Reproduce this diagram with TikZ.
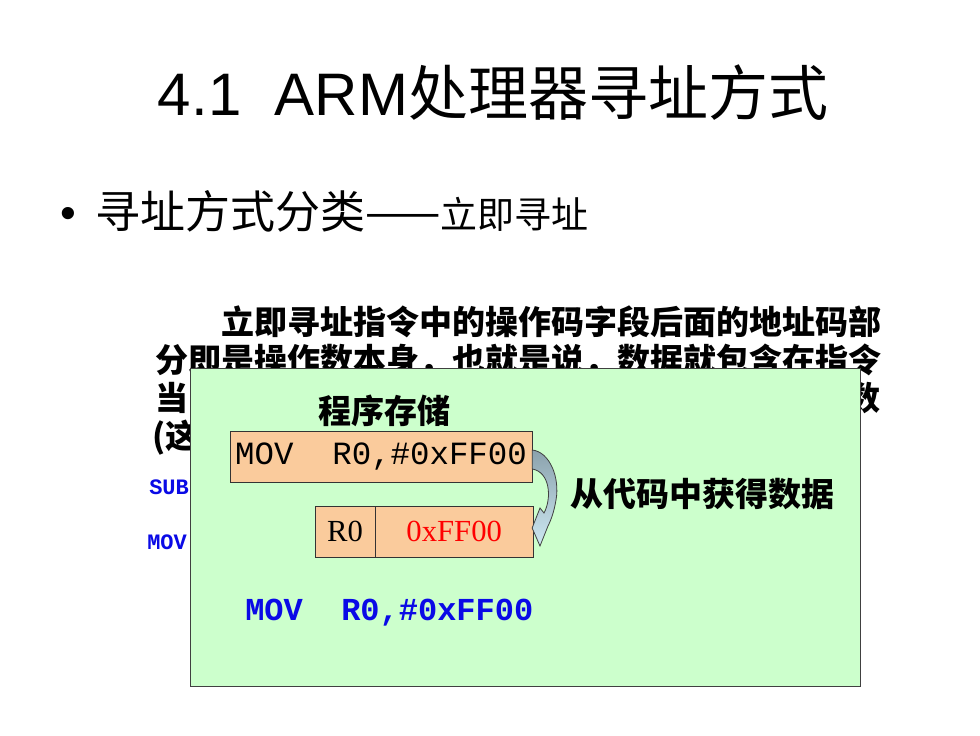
\documentclass[tikz,border=0pt]{standalone}
\usepackage{fontspec}
\setmainfont{Liberation Sans}
\newfontfamily\cjk{Noto Sans CJK SC}
\newfontfamily\courier{Liberation Mono}
\newfontfamily\timesf{Liberation Serif}
\usepackage{tikz}
\usetikzlibrary{positioning, calc}
\definecolor{panelgreen}{HTML}{CCFFCC}
\definecolor{cellorange}{HTML}{FACB9C}
\definecolor{codeblue}{HTML}{0A0AE6}
\definecolor{arrowtop}{HTML}{8BA2AD}
\definecolor{arrowbot}{HTML}{CDE8F2}
\tikzset{kai/.style={font=\cjk\bfseries\fontsize{24.75}{30}\selectfont, inner sep=0pt},
    smallcode/.style={font=\courier\bfseries\fontsize{16.5}{20}\selectfont, text=codeblue, inner sep=0pt},
    cell/.style={draw=black!80, fill=cellorange, minimum height=38pt, inner sep=0pt},}

\begin{document}
\begin{tikzpicture}[x=0.75pt, y=-0.75pt]
                    \useasboundingbox[fill=white] (0,0) rectangle (980,735);
                    %Title and bullet line:
                    \node[anchor=base, inner sep=0pt, font=\fontsize{45}{54}\selectfont] (title) at (493,115)
                        {4.1\ \ ARM{\cjk 处理器寻址方式}};
                    \node[anchor=base west, inner sep=0pt, font=\fontsize{33.75}{40}\selectfont] (bullet) at (60,228) {•};
                    \node[anchor=base west, inner sep=0pt, font=\cjk\fontsize{33.75}{40}\selectfont] (topic) at (95,228)
                        {寻址方式分类——{\fontsize{27.75}{34}\selectfont 立即寻址}};
                    %Paragraph behind the panel:
                    \node[kai, anchor=base west] (line1) at (221,334) {立即寻址指令中的操作码字段后面的地址码部};
                    \node[kai, anchor=base west] (line2) at (155,372) {分即是操作数本身，也就是说，数据就包含在指令};
                    \node[kai, anchor=base west] (line3) at (155,410) {当};
                    \node[kai, anchor=base east] (line3b) at (881,410) {数};
                    \node[kai, anchor=base west] (line4) at (152,448) {(这};
                    \node[smallcode, anchor=base west] (sub) at (149,494) {SUB};
                    \node[smallcode, anchor=base west] (mov) at (147,549) {MOV};
                    %Green panel on top:
                    \node[draw=black!75, line width=0.75pt, fill=panelgreen, minimum width=502.5pt, minimum height=238.5pt,
                        inner sep=0pt] (panel) at (525,527) {};
                    \node[kai, anchor=base] (store) at (384,423) {程序存储};
                    \node[cell, minimum width=226.5pt, font=\courier\fontsize{24.3}{28}\selectfont] (instr) at (381,457)
                        {MOV\ \ R0,\#0xFF00};
                    \node[cell, minimum width=45pt, font=\timesf\fontsize{23}{28}\selectfont] (reg) at (345,531.5) {R0};
                    \node[cell, minimum width=118pt, font=\timesf\fontsize{23}{28}\selectfont, text=red,
                        right=0pt of reg] (val) {0xFF00};
                    %Curved arrow from the code to the register:
                    \coordinate (a) at ($(instr.east)+(0,-7)$);
                    \coordinate (b) at ($(instr.east)+(0,12)$);
                    \coordinate (tip) at ($(val.east)+(-1,-3.5)$);
                    \def\fetch{ (a) .. controls (550,452) and (560,478) .. (556,500)
                        .. controls (554,512) and (551,520) .. (548,526) -- (540,546) -- (tip) -- (540,508) -- (544,513)
                        .. controls (552,498) and (550,472) .. (b) -- cycle}
                        \path[top color=arrowtop, bottom color=arrowbot, draw=black!75, line width=0.6pt] \fetch ;
                    \node[kai, anchor=base] (fetchlabel) at (702,506) {从代码中获得数据};
                    \node[font=\courier\bfseries\fontsize{24}{28}\selectfont, text=codeblue, anchor=base west, inner sep=0pt]
                        (code) at (245,620) {MOV\ \ R0,\#0xFF00};
                \end{tikzpicture}
\end{document}
